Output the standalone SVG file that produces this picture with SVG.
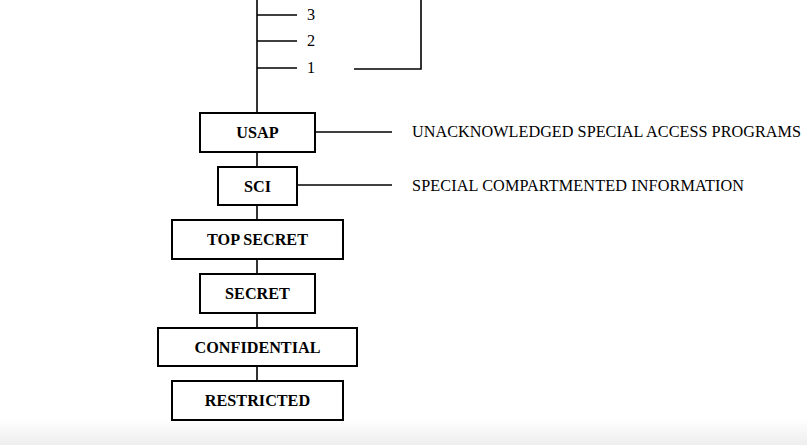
<svg xmlns="http://www.w3.org/2000/svg" width="807" height="445" viewBox="0 0 807 445">
<style>
.box{fill:#fff;stroke:#000;stroke-width:2}
.ln{stroke:#000;stroke-width:1.6;fill:none}
.lb{font-family:"Liberation Serif","Times New Roman",serif;font-size:16.2px;font-weight:bold;text-anchor:middle;fill:#000}
.tx{font-family:"Liberation Serif","Times New Roman",serif;font-size:16.2px;fill:#000}
</style>
<defs>
<linearGradient id="bg" x1="0" y1="0" x2="0" y2="1">
<stop offset="0" stop-color="#fff"/>
<stop offset="1" stop-color="#eeeeee"/>
</linearGradient>
</defs>
<rect x="0" y="0" width="807" height="445" fill="#fff"/>
<rect x="0" y="418" width="807" height="27" fill="url(#bg)"/>
<g id="connectors">
<path class="ln" d="M257,0 V113"/>
<path class="ln" d="M257,15 H297 M257,41 H297 M257,68 H297"/>
<path class="ln" d="M354,69 H421 V0"/>
<path class="ln" d="M257,152 V167 M257,205 V220 M257,259 V274 M257,313 V328 M257,366 V381"/>
<path class="ln" d="M315,132 H392"/>
<path class="ln" d="M297,185 H392"/>
</g>
<g id="ticks">
<text class="tx" x="311" y="20" text-anchor="middle">3</text>
<text class="tx" x="311" y="46" text-anchor="middle">2</text>
<text class="tx" x="311" y="73" text-anchor="middle">1</text>
</g>
<g id="usap"><rect class="box" x="200" y="113" width="115" height="39"/><text class="lb" x="257.5" y="138">USAP</text></g>
<g id="sci"><rect class="box" x="218" y="167" width="79" height="38"/><text class="lb" x="257.5" y="191.5">SCI</text></g>
<g id="topsecret"><rect class="box" x="172" y="220" width="171" height="39"/><text class="lb" x="257.5" y="245">TOP SECRET</text></g>
<g id="secret"><rect class="box" x="200" y="274" width="115" height="39"/><text class="lb" x="257.5" y="299">SECRET</text></g>
<g id="confidential"><rect class="box" x="158" y="328" width="199" height="38"/><text class="lb" x="257.5" y="352.5">CONFIDENTIAL</text></g>
<g id="restricted"><rect class="box" x="172" y="381" width="171" height="39"/><text class="lb" x="257.5" y="406">RESTRICTED</text></g>
<g id="usap-label"><text class="tx" x="412" y="137" textLength="389" lengthAdjust="spacing">UNACKNOWLEDGED SPECIAL ACCESS PROGRAMS</text></g>
<g id="sci-label"><text class="tx" x="412" y="191" textLength="332" lengthAdjust="spacing">SPECIAL COMPARTMENTED INFORMATION</text></g>
</svg>
